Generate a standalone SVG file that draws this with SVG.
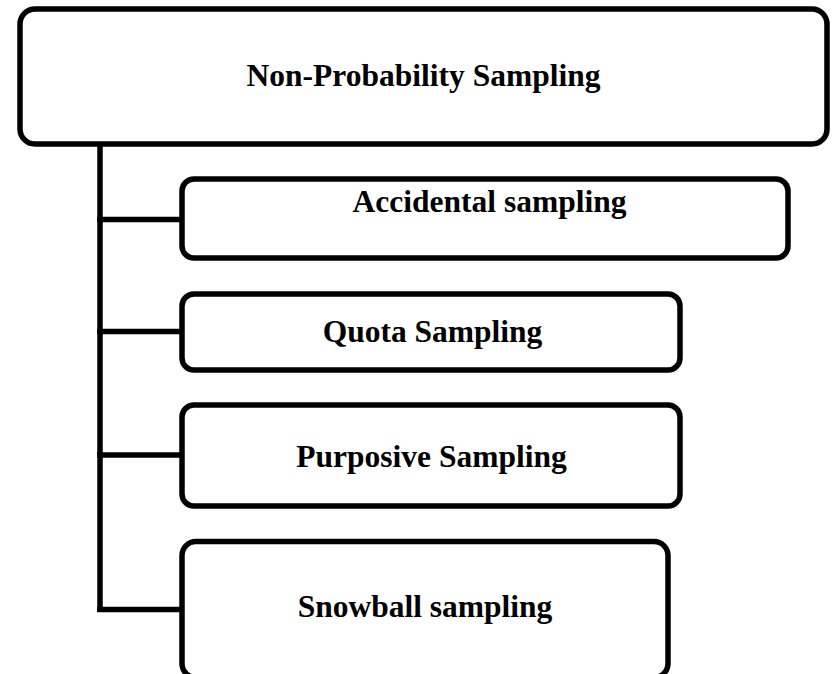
<svg xmlns="http://www.w3.org/2000/svg" width="835" height="674" viewBox="0 0 835 674">
<style>
.box{fill:#fff;stroke:#000;stroke-width:5.5}
.lbl{font-family:"Liberation Serif","Times New Roman",serif;font-weight:bold;font-size:31.5px;fill:#000;text-anchor:middle}
.conn{stroke:#000;stroke-width:5.5;fill:none}
</style>
<rect width="835" height="674" fill="#fff"/>
<g id="connectors">
<line class="conn" x1="100" y1="144" x2="100" y2="612"/>
<line class="conn" x1="97.25" y1="219.5" x2="182" y2="219.5"/>
<line class="conn" x1="97.25" y1="331.5" x2="182" y2="331.5"/>
<line class="conn" x1="97.25" y1="455" x2="182" y2="455"/>
<line class="conn" x1="97.25" y1="609.5" x2="182" y2="609.5"/>
</g>
<g id="root">
<rect class="box" x="20" y="9" width="807" height="135" rx="15"/>
<text class="lbl" x="423.5" y="86">Non-Probability Sampling</text>
</g>
<g id="accidental">
<rect class="box" x="182" y="179" width="606" height="79" rx="12"/>
<text class="lbl" x="489.5" y="212">Accidental sampling</text>
</g>
<g id="quota">
<rect class="box" x="182" y="294" width="498" height="76" rx="12"/>
<text class="lbl" x="432.5" y="342">Quota Sampling</text>
</g>
<g id="purposive">
<rect class="box" x="182" y="405" width="498" height="101" rx="12"/>
<text class="lbl" x="431.5" y="467">Purposive Sampling</text>
</g>
<g id="snowball">
<rect class="box" x="182" y="541.5" width="486" height="136" rx="14"/>
<text class="lbl" x="425" y="617">Snowball sampling</text>
</g>
</svg>
